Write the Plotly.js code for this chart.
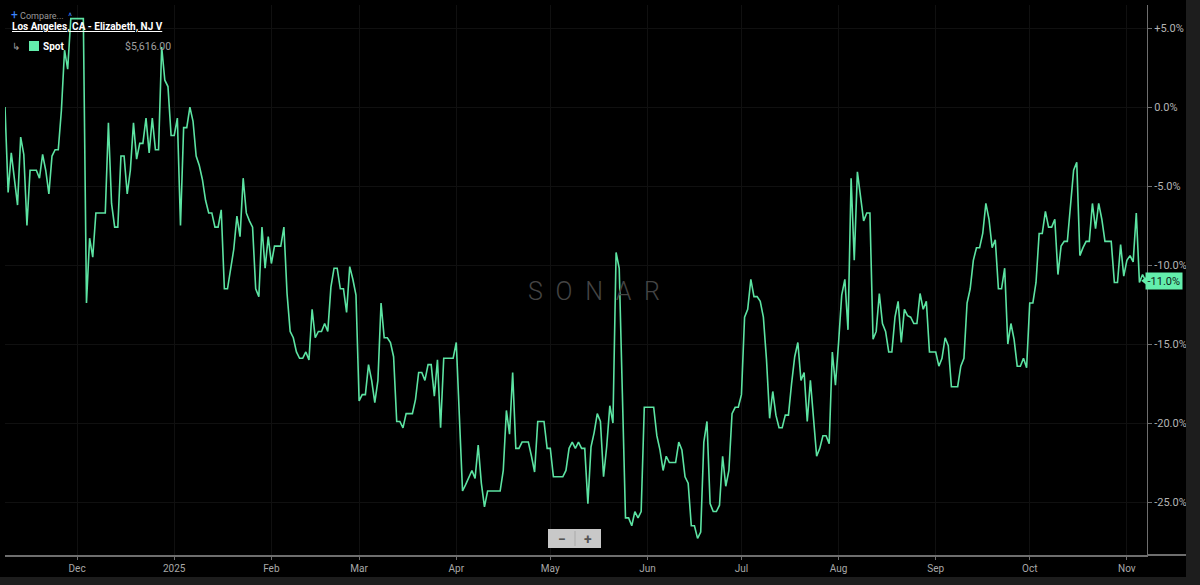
<!DOCTYPE html>
<html><head><meta charset="utf-8">
<script src="https://cdn.plot.ly/plotly-3.0.1.min.js"></script>
<style>
html,body{margin:0;padding:0;background:#1d1d1d;overflow:hidden;}
#chart{position:absolute;left:0;top:0;width:1186px;height:577px;}
</style>
</head><body><div id="chart"></div>
<script>
// ---- data ----
const startDate = '2024-11-08';
const spotChangePct = [
  0.0, -5.4, -2.9, -4.6, -6.2, -1.9, -3.0, -7.5, -4.0, -4.0,
  -4.0, -4.5, -3.0, -4.0, -5.5, -3.1, -2.7, -2.7, -0.2, 3.6,
  2.4, 5.6, 5.6, 5.6, 5.6, 5.6, -12.4, -8.3, -9.5, -6.7,
  -6.7, -6.7, -6.7, -1.0, -6.1, -7.6, -7.6, -3.1, -3.1, -5.5,
  -4.0, -1.0, -3.3, -2.3, -2.3, -0.7, -2.9, -0.7, -2.7, -2.7,
  3.8, 1.7, 1.3, -1.8, -1.8, -0.7, -7.5, -1.3, -1.3, 0.0,
  -0.9, -3.1, -3.7, -4.6, -5.9, -6.7, -6.7, -7.6, -7.6, -6.5,
  -11.5, -11.5, -10.3, -9.0, -6.9, -8.2, -4.5, -6.7, -7.2, -7.6,
  -11.5, -12.0, -7.6, -10.2, -8.2, -9.9, -8.8, -8.8, -8.8, -7.6,
  -11.8, -14.2, -14.6, -15.5, -15.9, -15.9, -15.5, -16.0, -12.8, -14.6,
  -14.2, -14.2, -13.7, -14.2, -11.4, -10.2, -10.2, -11.5, -11.5, -13.0,
  -10.1, -10.9, -11.9, -18.6, -18.2, -18.2, -16.3, -17.3, -18.7, -17.3,
  -12.4, -14.6, -14.6, -14.9, -15.8, -19.9, -19.9, -20.3, -19.4, -19.4,
  -19.4, -18.5, -16.8, -16.8, -17.3, -16.3, -16.3, -18.3, -16.0, -20.3,
  -15.9, -15.9, -15.9, -15.9, -14.9, -19.6, -24.3, -23.9, -23.5, -23.0,
  -23.5, -21.4, -23.8, -25.3, -24.3, -24.3, -24.3, -24.3, -24.3, -23.0,
  -19.2, -20.7, -16.8, -21.6, -21.6, -21.2, -21.2, -21.2, -22.1, -23.1,
  -19.9, -19.9, -19.9, -21.6, -21.6, -23.4, -23.4, -23.4, -23.4, -23.0,
  -21.6, -21.2, -21.6, -21.2, -21.6, -21.6, -25.1, -21.5, -20.6, -19.4,
  -19.9, -23.4, -21.5, -18.9, -20.0, -9.2, -10.2, -18.1, -26.0, -26.0,
  -26.5, -25.6, -26.0, -25.6, -19.0, -19.0, -19.0, -19.0, -20.8, -21.7,
  -23.0, -22.1, -22.5, -22.5, -22.5, -21.2, -21.7, -23.4, -23.8, -26.5,
  -26.5, -27.3, -26.9, -21.2, -19.9, -25.1, -25.6, -25.6, -25.2, -22.1,
  -24.0, -23.0, -19.4, -19.0, -19.0, -18.2, -13.3, -12.8, -10.9, -12.0,
  -12.0, -12.3, -13.3, -16.0, -19.7, -18.0, -19.5, -20.3, -20.3, -19.5,
  -19.5, -17.5, -15.8, -14.9, -17.3, -16.8, -19.9, -17.3, -20.0, -22.1,
  -21.6, -20.8, -20.8, -21.3, -15.5, -17.6, -14.9, -11.9, -10.9, -14.1,
  -4.5, -9.7, -4.1, -5.7, -7.2, -6.7, -6.7, -14.7, -14.2, -11.8,
  -13.7, -14.2, -15.5, -15.5, -13.3, -12.3, -14.9, -12.8, -13.2, -13.3,
  -13.7, -13.7, -11.8, -12.8, -12.3, -15.5, -15.5, -15.5, -16.4, -15.9,
  -14.6, -15.1, -17.7, -17.7, -17.7, -16.4, -15.9, -12.4, -11.5, -9.7,
  -8.9, -8.9, -8.0, -6.1, -7.1, -8.9, -8.4, -11.5, -11.5, -10.2,
  -15.0, -13.7, -14.7, -16.4, -16.4, -15.9, -16.5, -12.4, -12.4, -11.1,
  -8.0, -8.0, -6.6, -7.6, -7.6, -7.1, -10.6, -8.8, -8.5, -8.5,
  -6.3, -4.0, -3.5, -9.4, -8.9, -8.5, -8.5, -6.1, -7.7, -6.1,
  -7.1, -8.5, -8.5, -8.5, -11.1, -11.1, -8.7, -10.7, -9.7, -9.4,
  -9.8, -6.7, -11.1, -10.6, -11.0
];
const xTickDates = ['2024-12-01','2025-01-01','2025-02-01','2025-03-01','2025-04-01','2025-05-01',
                    '2025-06-01','2025-07-01','2025-08-01','2025-09-01','2025-10-01','2025-11-01'];
const xTickLabels = ['Dec','2025','Feb','Mar','Apr','May','Jun','Jul','Aug','Sep','Oct','Nov'];
const yTickVals = [5, 0, -5, -10, -15, -20, -25];
const yTickLabels = ['+5.0%','0.0%','-5.0%','-10.0%','-15.0%','-20.0%','-25.0%'];
const laneName = 'Los Angeles, CA - Elizabeth, NJ V';
const seriesName = 'Spot';
const spotPrice = '$5,616.00';
const lastLabel = '-11.0%';

// ---- build ----
function addDays(iso, n) {
  const d = new Date(iso + 'T00:00:00Z');
  d.setUTCDate(d.getUTCDate() + n);
  return d.toISOString().slice(0, 10);
}
const dates = spotChangePct.map((_, i) => addDays(startDate, i));
const lastDate = dates[dates.length - 1];
const lastVal = spotChangePct[spotChangePct.length - 1];

const green = '#5ce3a2';
const labelGreen = '#63eeac';

const traces = [
  {
    x: dates, y: spotChangePct, type: 'scatter', mode: 'lines',
    line: {color: green, width: 1.6}, hoverinfo: 'skip', showlegend: false
  },
  {
    x: [lastDate], y: [lastVal], type: 'scatter', mode: 'markers',
    marker: {symbol: 'triangle-left', size: 9, color: labelGreen},
    cliponaxis: false, hoverinfo: 'skip', showlegend: false
  }
];

// plot area in pixels: x 5..1147, y 5..555
const px = p => (p - 5) / 1142;
const py = p => (555 - p) / 550;

const font = 'Roboto, "Liberation Sans", Arial, sans-serif';

const layout = {
  width: 1186, height: 577,
  margin: {l: 5, r: 39, t: 5, b: 22, pad: 0},
  paper_bgcolor: '#000000', plot_bgcolor: '#000000',
  font: {family: font, color: '#aaaaaa', size: 10},
  xaxis: {
    type: 'date', range: ['2024-11-08', '2025-11-07 10:00'],
    tickvals: xTickDates, ticktext: xTickLabels,
    showgrid: true, gridcolor: '#101010', gridwidth: 1,
    zeroline: false, showline: true, linecolor: '#6e6e6e', linewidth: 2,
    ticks: 'outside', ticklen: 3, tickcolor: '#6e6e6e',
    tickfont: {family: font, size: 10, color: '#a8a8a8'},
    fixedrange: true
  },
  yaxis: {
    side: 'right', range: [-28.35, 6.46],
    tickvals: yTickVals, ticktext: yTickLabels,
    showgrid: true, gridcolor: '#101010', gridwidth: 1,
    zeroline: false, showline: true, linecolor: '#6e6e6e', linewidth: 1,
    ticks: 'outside', ticklen: 4, tickcolor: '#6e6e6e',
    tickfont: {family: font, size: 11, color: '#b4b4b4'},
    fixedrange: true
  },
  shapes: [
    {type: 'line', xref: 'paper', yref: 'paper', x0: 1, x1: px(1186), y0: 0, y1: 0,
     line: {color: '#6e6e6e', width: 2}},
    {type: 'rect', xref: 'paper', yref: 'paper', x0: px(29), x1: px(39), y0: py(51), y1: py(41),
     fillcolor: labelGreen, line: {width: 0}},
    {type: 'rect', xref: 'paper', yref: 'paper', x0: px(548), x1: px(601), y0: py(548), y1: py(529),
     fillcolor: '#c8c8c8', line: {width: 0}},
    {type: 'line', xref: 'paper', yref: 'paper', x0: px(575), x1: px(575), y0: py(546), y1: py(531),
     line: {color: '#aaaaaa', width: 1}}
  ],
  annotations: [
    {xref: 'paper', yref: 'paper', x: px(9), y: py(15), xanchor: 'left', yanchor: 'middle', showarrow: false,
     text: '<span style="color:#3a86ff;font-size:12px">+</span> Compare...  <span style="color:#3a86ff">^</span>',
     font: {family: font, size: 9, color: '#9a9a9a'}},
    {xref: 'paper', yref: 'paper', x: px(10), y: py(27), xanchor: 'left', yanchor: 'middle', showarrow: false,
     text: '<b><u>' + laneName + '</u></b>', font: {family: font, size: 10, color: '#ffffff'}},
    {xref: 'paper', yref: 'paper', x: px(10), y: py(46), xanchor: 'left', yanchor: 'middle', showarrow: false,
     text: '↳', font: {family: font, size: 10, color: '#9a9a9a'}},
    {xref: 'paper', yref: 'paper', x: px(41), y: py(46), xanchor: 'left', yanchor: 'middle', showarrow: false,
     text: '<b>' + seriesName + '</b>', font: {family: font, size: 10, color: '#ffffff'}},
    {xref: 'paper', yref: 'paper', x: px(123), y: py(46), xanchor: 'left', yanchor: 'middle', showarrow: false,
     text: spotPrice, font: {family: font, size: 10.5, color: '#a0a0a0'}},
    {xref: 'paper', yref: 'paper', x: px(593.5), y: py(291.5), xanchor: 'center', yanchor: 'middle', showarrow: false,
     text: 'S\u2002O\u2002N\u2002A\u2002R', font: {family: font, size: 25, color: '#444444', weight: 300}},
    {xref: 'paper', yref: 'paper', x: px(562), y: py(538.5), xanchor: 'center', yanchor: 'middle', showarrow: false,
     text: '<b>−</b>', font: {family: font, size: 14, color: '#555555'}},
    {xref: 'paper', yref: 'paper', x: px(588), y: py(538.5), xanchor: 'center', yanchor: 'middle', showarrow: false,
     text: '<b>+</b>', font: {family: font, size: 14, color: '#555555'}},
    {xref: 'paper', yref: 'y', x: 1, y: lastVal, xshift: -2, xanchor: 'left', yanchor: 'middle', showarrow: false,
     text: lastLabel, bgcolor: labelGreen, borderpad: 1.5,
     font: {family: font, size: 11, color: '#0d2118'}}
  ],
  hovermode: false
};

Plotly.newPlot('chart', traces, layout, {displayModeBar: false, staticPlot: true});
</script>
</body></html>
